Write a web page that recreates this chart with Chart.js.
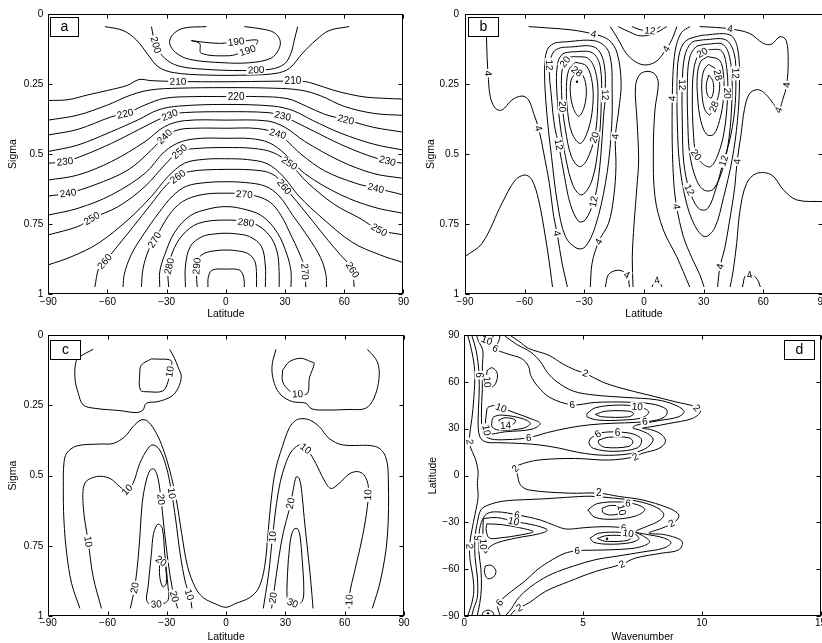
<!DOCTYPE html>
<html>
<head>
<meta charset="utf-8">
<script src="https://cdn.jsdelivr.net/npm/chart.js@4.4.1/dist/chart.umd.min.js"></script>
<style>
  html, body { margin: 0; padding: 0; background: #fff; width: 822px; height: 643px; overflow: hidden; }
  canvas { position: absolute; }
</style>
</head>
<body>
<canvas id="pa" width="411" height="322" style="left:0;top:0"></canvas>
<canvas id="pb" width="430" height="322" style="left:411px;top:0"></canvas>
<canvas id="pc" width="411" height="322" style="left:0;top:321px"></canvas>
<canvas id="pd" width="430" height="322" style="left:411px;top:321px"></canvas>
<script>
// ---- axis ticks ----
const latTicks = [-90, -60, -30, 0, 30, 60, 90];
const sigmaTicks = [0, 0.25, 0.5, 0.75, 1];
const wnTicks = [0, 5, 10, 15];

// ---- panel a: temperature (lat, sigma) ----
const a190 = [[-17.5,.095],[-13.3,.105],[-12.5,.14],[1.9,.149],[7.8,.138],[12.8,.126],[16.2,.095],[10.3,.095],[1.9,.102],[-3.2,.105],[-10.8,.101],[-17.5,.095]];
const a195 = [[-9.9,.045],[-21.7,.051],[-27.1,.075],[-28.5,.105],[-25.4,.138],[-18.4,.162],[-1.5,.174],[12,.174],[22.9,.158],[26.8,.126],[27.5,.095],[24.6,.067],[18.7,.054],[9.4,.045]];
const a200 = [[-37.7,.045],[-36.9,.075],[-35.2,.117],[-31,.158],[-24.3,.185],[-11.6,.197],[8.6,.202],[22.9,.197],[29.7,.178],[33,.14],[34.7,.093],[36.4,.045]];
const a205 = [[-61.3,.045],[-52.1,.059],[-45.3,.093],[-39.4,.146],[-34.4,.188],[-26.8,.209],[-9.9,.218],[12,.218],[25.4,.212],[32.2,.194],[38.9,.14],[45.7,.093],[52.4,.059],[62.5,.045]];
const a210 = [[-90,.309],[-80,.306],[-70,.289],[-60,.273],[-50,.255],[-44,.234],[-38,.238],[-25,.241],[0,.242],[25,.24],[35,.24],[40,.241],[45,.25],[54,.271],[63,.287],[71,.297],[80,.301],[90,.304]];
const a215 = [[-90,.379],[-75,.361],[-60,.325],[-48,.289],[-38,.271],[-24,.265],[0,.263],[24,.265],[38,.272],[48,.292],[60,.33],[75,.355],[90,.362]];
const a220 = [[-90,.432],[-75,.412],[-58,.367],[-50.4,.355],[-41,.325],[-31,.301],[-16,.295],[0,.295],[16,.295],[31,.302],[41,.33],[50,.358],[61,.378],[75,.405],[90,.422]];
const a225 = [[-90,.491],[-75,.468],[-58,.42],[-44.5,.378],[-34.4,.343],[-24,.329],[0,.323],[24,.329],[34,.345],[44,.38],[58,.425],[75,.465],[90,.486]];
const a230 = [[-90,.533],[-81.6,.527],[-71.5,.503],[-58,.462],[-44.5,.414],[-34.4,.378],[-28.5,.361],[-21,.352],[0,.349],[21,.352],[28.8,.364],[35,.385],[45,.42],[58,.465],[72,.505],[82,.525],[90,.533]];
const a235 = [[-90,.593],[-75,.575],[-58,.527],[-41,.456],[-31,.402],[-21,.381],[0,.379],[21,.382],[30,.405],[40,.455],[58,.525],[75,.57],[90,.587]];
const a240 = [[-90,.65],[-80,.64],[-66.4,.61],[-49.6,.557],[-37.8,.486],[-31,.438],[-24.3,.414],[-16,.408],[0,.408],[16,.409],[26.3,.428],[32,.46],[38,.5],[50,.56],[66,.605],[76,.622],[90,.646]];
const a245 = [[-90,.718],[-75,.694],[-58,.646],[-41,.569],[-31,.491],[-22.6,.456],[-12.5,.444],[0,.444],[12.5,.445],[22,.46],[30,.5],[40,.57],[58,.645],[75,.69],[90,.712]];
const a250 = [[-90,.789],[-75,.759],[-68,.73],[-54.6,.688],[-41,.616],[-31,.539],[-23.5,.491],[-14,.48],[0,.477],[14,.48],[24,.495],[32.2,.533],[41,.6],[55,.68],[68,.73],[77.7,.771],[90,.789]];
const a255 = [[-90,.896],[-78,.866],[-64.7,.819],[-49.6,.735],[-37.8,.652],[-29.4,.581],[-21,.533],[-11,.519],[0,.517],[11,.52],[21,.535],[29,.58],[37,.65],[49,.73],[64,.815],[78,.86],[90,.888]];
const a260 = [[-66.4,.975],[-64.5,.91],[-61.4,.884],[-55,.83],[-47,.76],[-38,.68],[-30,.61],[-24.3,.581],[-18,.562],[0,.555],[18,.56],[25,.578],[29.6,.617],[36,.67],[44,.74],[52,.81],[58,.86],[62,.89],[64.2,.914],[65,.975]];
const a265 = [[-52.1,.975],[-51.5,.93],[-48,.86],[-42,.79],[-34,.71],[-27,.65],[-20,.615],[-10,.602],[0,.599],[10,.602],[20,.615],[27,.65],[34,.72],[42,.8],[48,.87],[50.7,.93],[51,.975]];
const a270 = [[-42.8,.975],[-42,.91],[-39,.84],[-36.1,.807],[-29,.72],[-22,.67],[-12,.645],[0,.64],[12,.645],[22,.67],[28,.72],[33,.79],[37,.85],[40,.91],[40.5,.975]];
const a275 = [[-33.5,.975],[-33.5,.92],[-31,.86],[-26,.78],[-18,.72],[-8,.695],[0,.688],[8,.695],[18,.72],[26,.78],[31,.86],[33,.92],[33,.975]];
const a280 = [[-29,.975],[-29.3,.92],[-27,.85],[-22,.79],[-14,.748],[0,.736],[14,.748],[22,.79],[26,.85],[27,.92],[27,.975]];
const a285 = [[-20.5,.975],[-20.5,.9],[-18,.83],[-12,.795],[-5,.785],[0,.783],[5,.785],[12,.795],[18,.83],[20,.9],[20,.975]];
const a290 = [[-14.5,.975],[-15,.92],[-14.5,.88],[-11,.855],[-5,.845],[0,.843],[5,.845],[11,.855],[14.5,.88],[15.5,.92],[15.5,.975]];
const a295 = [[-9.1,.975],[-8.9,.94],[-7,.915],[0,.911],[7,.915],[9,.94],[9.4,.975]];
const aLabels = [
  ['200','a200',-35.2,.11],['190','a190',5.2,.1],['190','a190',11.1,.133],['200','a200',15.3,.2],
  ['210','a210',-24.3,.241],['210','a210',34,.24],['220','a220',5.2,.295],['220','a220',-51,.357],['220','a220',60.8,.378],
  ['230','a230',-28.5,.361],['230','a230',28.8,.364],['230','a230',-81.6,.527],['230','a230',81.9,.525],
  ['240','a240',-31,.438],['240','a240',26.3,.428],['240','a240',-80,.64],['240','a240',76,.622],
  ['250','a250',-23.5,.491],['250','a250',32.2,.533],['250','a250',-68,.73],['250','a250',77.7,.771],
  ['260','a260',-24.3,.581],['260','a260',29.6,.617],['260','a260',-61.4,.884],['260','a260',64.2,.914],
  ['270','a270',9.4,.64],['270','a270',-36.1,.807],['270','a270',40,.92],
  ['280','a280',10.3,.737],['280','a280',-29.2,.9],['290','a290',-15,.9]
];

// ---- panel b: zonal wind (lat, sigma) ----
const bB1 = [[-79.3,.045],[-79.2,.08],[-78.9,.152],[-78.4,.212],[-77.3,.295],[-74.7,.337],[-71.4,.343],[-66.4,.307],[-61.3,.293],[-58,.307],[-55.5,.355],[-53,.408],[-50.4,.497],[-47.6,.605],[-45.4,.723],[-43.7,.783],[-41.2,.89],[-38.5,.975]];
const bB2 = [[-90,.866],[-81.4,.819],[-71.4,.676],[-64.7,.593],[-59.7,.575],[-56.3,.593],[-53,.664],[-49.6,.795],[-47.1,.914],[-46,.975]];
const bJ4L = [[-58,.045],[-47.9,.05],[-36.2,.057],[-25.3,.072],[-17.8,.092],[-13.5,.14],[-11.5,.247],[-12.7,.343],[-14.4,.438],[-14.1,.545],[-15.2,.652],[-17.8,.747],[-22.8,.813],[-26.1,.89],[-27,.975]];
const bJ8L = [[-41.2,.1],[-24,.097],[-17.5,.14],[-16,.283],[-16.6,.438],[-19.4,.605],[-24.5,.759],[-29.5,.831],[-33.7,.837],[-39.5,.795],[-43.5,.676],[-46.5,.509],[-49,.343],[-50,.2],[-48.8,.13],[-45.4,.105],[-41.2,.1]];
const bJ12L = [[-38,.118],[-25,.118],[-20.3,.17],[-19.5,.295],[-20.3,.36],[-21,.438],[-22.8,.581],[-25.3,.67],[-29.5,.735],[-32.8,.741],[-37,.68],[-40,.58],[-42.9,.467],[-45,.4],[-46.5,.3],[-47.6,.182],[-45.4,.135],[-42.1,.121],[-38,.118]];
const bJ16L = [[-36.2,.135],[-26.1,.138],[-22,.188],[-21.5,.32],[-22.8,.462],[-26.1,.593],[-31.2,.646],[-35.5,.616],[-39.5,.509],[-42.5,.378],[-44,.247],[-43.2,.17],[-40.7,.142],[-36.2,.135]];
const bJ20L = [[-35.4,.152],[-27.8,.16],[-23.8,.224],[-23.3,.331],[-24.8,.438],[-28.7,.521],[-32.5,.545],[-36.5,.509],[-39.5,.414],[-41,.331],[-41.5,.224],[-40.2,.175],[-38.2,.157],[-35.4,.152]];
const bJ24L = [[-34.5,.172],[-28.9,.186],[-26,.247],[-25.8,.331],[-28.1,.414],[-32,.462],[-36.2,.426],[-38.5,.343],[-39,.259],[-37.8,.2],[-34.5,.172]];
const bJ28L = [[-33.7,.205],[-30.5,.222],[-29,.271],[-30,.331],[-32.8,.365],[-35.5,.337],[-37,.283],[-36.6,.235],[-33.7,.205]];
const bJ32R = [[32.5,.218],[34.5,.237],[35,.27],[33.8,.3],[32,.29],[31.3,.255],[32.5,.218]];
const bJ28R = [[32.5,.18],[36.5,.2],[38,.24],[37.5,.29],[35.2,.331],[33,.36],[30.5,.34],[29.2,.29],[29.2,.23],[30.5,.195],[32.5,.18]];
const bJ24R = [[32,.152],[38,.165],[40,.22],[40,.3],[38,.38],[35,.43],[31.5,.43],[28.5,.38],[27,.3],[26.8,.22],[28.5,.17],[32,.152]];
const bJ20R = [[32,.127],[39,.132],[41.7,.2],[42,.3],[40.3,.42],[37.3,.5],[33.5,.545],[29.5,.535],[26.2,.503],[24.8,.42],[24.3,.3],[25,.2],[27.5,.145],[32,.127]];
const bJ16R = [[31,.108],[40,.11],[43.7,.18],[44.2,.3],[42.8,.44],[39.7,.55],[35,.625],[30.5,.63],[26.5,.595],[23,.5],[22,.38],[21.8,.25],[22.8,.16],[26,.118],[31,.108]];
const bJ12R = [[30,.092],[41,.092],[45.3,.14],[46.2,.23],[45.5,.35],[42.8,.46],[40,.524],[36.3,.62],[32,.695],[27.5,.695],[22.8,.628],[20,.53],[19.3,.4],[19.2,.253],[20.5,.15],[24,.102],[30,.092]];
const bJ8R = [[29,.076],[43,.074],[47,.12],[48,.24],[47,.38],[44.3,.52],[40,.655],[35.5,.765],[30.5,.795],[25.5,.755],[21,.665],[17.8,.53],[16.8,.4],[16.6,.26],[17.5,.15],[21,.096],[29,.076]];
const bR2 = [[23.1,.045],[19,.065],[16.3,.11],[15,.17],[14.5,.224],[14.2,.301],[14.2,.462],[15,.605],[16.4,.688],[19.8,.795],[24,.87],[28,.93],[30.2,.975]];
const bR4 = [[28,.045],[36,.048],[43.3,.053],[53,.069],[60,.105],[64,.108],[68.4,.081],[71.5,.095],[72.5,.17],[71.7,.254],[70,.3],[67.6,.343],[65,.32],[61,.285],[57,.27],[53,.285],[50.5,.34],[48.8,.43],[46.8,.527],[45.6,.62],[43,.74],[40.5,.84],[38.2,.902],[37,.975]];
const bB2R = [[90,.67],[76.8,.664],[70.1,.628],[64.2,.575],[56.7,.569],[51.6,.605],[48.3,.7],[46.6,.819],[44.9,.914],[43.3,.975]];
const bWaist = [[-5.5,.975],[-5.9,.87],[-5,.75],[-3.6,.62],[-2.7,.521],[-3.5,.38],[-4.3,.26],[-2,.215],[2,.205],[5.5,.215],[7.2,.247],[5.5,.343],[4.7,.486],[5.5,.652],[9.7,.771],[16.4,.866],[23,.975]];
const bU = [[-17,.045],[-13,.09],[-9,.14],[-4,.172],[1,.182],[6,.17],[10,.138],[13,.105],[15,.075],[16.5,.045]];
const bArc2 = [[-13,.045],[-7,.065],[-2,.078],[4.7,.071],[11.5,.045]];
const bArc1 = [[-6,.045],[-2,.056],[3,.06],[6.5,.052],[8.3,.045]];
const bArcL = [[-19.4,.975],[-17.8,.93],[-12.7,.915],[-8.5,.932],[-7.3,.975]];
const bArcM = [[4,.975],[5.9,.952],[7.5,.95],[9,.975]];
const bArcR = [[49.5,.975],[51,.935],[54,.93],[57,.948],[58.5,.975]];
const bDots = [[-33.7,.242]];
const bLabels = [
  ['4','bJ4L',-25.3,.072],['12','bJ12L',-47.6,.182],['20','bJ20L',-40.7,.165],['28','bJ28L',-33.7,.205],
  ['12','bJ12L',-19.5,.289],['20','bJ20L',-41.2,.331],['20','bJ20L',-25.5,.44],['4','bJ4L',-14.4,.438],
  ['12','bJ12L',-42.9,.467],['12','bJ12L',-25.3,.67],['4','bJ4L',-22.8,.813],['4','bB1',-43.7,.783],
  ['4','bB1',-53,.408],['4','bB1',-78.9,.212],['4','bArcL',-8.5,.93],['12','bArc1',3,.06],['4','bU',11.4,.125],
  ['20','bJ20R',29,.135],['28','bJ28R',37.4,.218],['12','bJ12R',45.8,.212],['12','bJ12R',19.2,.253],
  ['4','bR2',14.2,.301],['20','bJ20R',41.8,.283],['28','bJ28R',35.2,.331],['20','bJ20R',26.2,.503],
  ['12','bJ12R',40,.524],['4','bR4',46.8,.527],['12','bJ12R',22.8,.628],['4','bR2',16.4,.688],
  ['4','bR4',38.2,.902],['4','bR4',71.7,.254],['4','bR4',67.6,.343],['4','bR4',43.3,.053],
  ['4','bArcM',6.5,.95],['4','bArcR',53,.93]
];

// ---- panel c (lat, sigma) ----
const cTopL = [[-67.3,.051],[-74,.077],[-76,.095],[-76.5,.154],[-74.8,.208],[-72.3,.249],[-66.4,.261],[-53.8,.269],[-45.4,.276],[-42.1,.267],[-40.4,.243],[-34.5,.237],[-27.8,.219],[-24.4,.19],[-22.7,.148],[-24.4,.113],[-26.1,.083],[-28.6,.051]];
const cTopLi = [[-37.8,.085],[-42.9,.107],[-43.7,.136],[-43.4,.196],[-39.5,.202],[-32,.199],[-29.4,.166],[-28.3,.125],[-27.5,.095],[-29.4,.087],[-33.6,.086],[-37.8,.085]];
const cTopR = [[25.2,.051],[23.2,.113],[24.4,.172],[27.8,.214],[33.6,.237],[40.4,.243],[42.9,.261],[47.1,.267],[62.2,.265],[70.6,.261],[74.8,.225],[77.4,.154],[76.5,.095],[71.5,.051]];
const cTopRi = [[28.6,.125],[32,.095],[37.8,.083],[42.9,.095],[44.6,.101],[42.1,.154],[41.2,.208],[36.2,.21],[32,.198],[28.6,.166],[28.6,.125]];
const cOuter = [[-74,.973],[-78.2,.884],[-80.7,.777],[-82.1,.658],[-82.4,.54],[-82.1,.457],[-80.7,.421],[-75.7,.395],[-63.9,.388],[-57.2,.386],[-51.3,.362],[-47.1,.326],[-42.9,.302],[-39.5,.308],[-35.3,.35],[-32,.403],[-28.6,.48],[-25.2,.587],[-22.5,.706],[-19.5,.824],[-15.5,.9],[-11.5,.935],[-5,.958],[0,.969],[5,.955],[11.8,.935],[16.5,.9],[19.5,.824],[21.2,.706],[22.8,.587],[25,.48],[28.5,.397],[32,.33],[35,.305],[37.8,.298],[42.1,.302],[47.1,.326],[52.1,.368],[58.9,.391],[75.7,.397],[80.7,.433],[82.1,.516],[81.6,.718],[78.2,.872],[74,.973]];
const c3L = [[-63.1,.973],[-67.3,.86],[-69.8,.735],[-72.3,.611],[-71.5,.528],[-65.6,.504],[-58.9,.51],[-53.8,.54],[-50.5,.554],[-47.1,.528],[-43.7,.457],[-39.5,.403],[-37,.391],[-33.6,.409],[-30.3,.469],[-27.8,.552],[-25.5,.658],[-23.3,.777],[-20.5,.884],[-18.3,.93],[-17.3,.973]];
const c4L = [[-48.5,.973],[-46.3,.9],[-44.6,.8],[-43.5,.7],[-42.5,.6],[-40.5,.52],[-38.3,.48],[-36.3,.478],[-34.5,.51],[-33,.58],[-31.5,.68],[-29.5,.8],[-27.3,.9],[-25.5,.95],[-24.5,.973]];
const c5L = [[-39.5,.896],[-37.8,.777],[-36.7,.706],[-34.5,.673],[-32.3,.688],[-31.1,.777],[-29.4,.896],[-29.2,.94],[-31.5,.956],[-35.3,.958],[-39.2,.955],[-40.3,.94],[-39.5,.896]];
const c6L = [[-33.6,.801],[-31.1,.813],[-30.3,.884],[-32,.896],[-33.6,.86],[-33.6,.801]];
const c3R = [[18.8,.973],[20,.92],[21.5,.85],[23.5,.718],[25.5,.6],[27.5,.52],[30,.46],[32.5,.42],[35,.4],[37.8,.391],[41.2,.409],[45.4,.457],[49.6,.516],[53,.546],[57.2,.528],[62.2,.495],[66.4,.486],[69.8,.498],[72,.54],[71.5,.611],[69,.718],[64.8,.848],[62.5,.92],[62.2,.973]];
const c4R = [[23,.973],[24.5,.9],[26.5,.8],[29,.7],[32,.62],[34,.55],[35.5,.505],[37,.51],[38.3,.56],[39.5,.65],[41,.75],[42.5,.85],[43.5,.93],[44,.973]];
const c5R = [[31.5,.8],[32.8,.72],[34.5,.69],[36.2,.69],[37.5,.72],[38.5,.8],[39.3,.9],[38.5,.948],[35,.958],[31.5,.948],[30.8,.9],[31.5,.8]];
const cLabels = [
  ['10','cTopLi',-28.6,.13],['10','cTopRi',36.2,.21],
  ['10','c3L',-50.5,.548],['10','c3L',-27.2,.563],['10','c3L',-69.8,.735],['10','c3L',-18.8,.925],
  ['20','c4L',-33,.585],['20','c4L',-46.3,.9],['20','c4L',-25.8,.93],['30','c5L',-35.3,.958],['20','c6L',-32.5,.8],
  ['10','c3R',40.4,.403],['10','c3R',23.5,.718],['10','c3R',72.2,.569],['10','c3R',62.3,.943],
  ['20','c4R',33.2,.6],['20','c4R',24,.935],['30','c5R',33.5,.956]
];

// ---- panel d: spectrum (wavenumber, lat) ----
const dFar = [[0.15,89.5],[0.32,79.2],[0.44,66.4],[0.4,49.4],[0.32,36.5],[0.21,23.7],[0.25,18.4],[0.46,10.9],[0.58,2.4],[0.55,-5],[0.58,-14],[0.45,-25],[0.32,-35],[0.22,-45],[0.25,-55],[0.35,-63.6],[0.4,-74],[0.3,-82.8],[0.15,-89.5]];
const dOut = [[1.95,89.5],[2.3,86],[2.71,81.4],[3.55,77.1],[4.11,71.8],[4.68,67.5],[5.1,65.4],[5.8,60],[6.64,55.8],[7.77,51.5],[8.89,47.2],[9.73,44],[9.94,40.8],[9.59,36.5],[8.61,33.3],[7.9,31.3],[7.5,30.3],[7.9,29.2],[8.33,25.9],[8.47,21.6],[8.19,17.3],[7.48,14.1],[7.2,12],[6.08,9.9],[4.68,10.9],[3.13,9.9],[2.29,6.7],[2.15,4.5],[2.22,1.3],[2.36,-5.9],[2.71,-9.2],[4.4,-11.3],[5.66,-11.3],[6.5,-13.4],[7.48,-15.6],[8.61,-20.9],[9.03,-25.2],[8.89,-29.4],[8.33,-33.7],[7.77,-36.9],[8.47,-38],[9.17,-42.2],[9.03,-47.6],[8.33,-49.7],[7.2,-52.9],[6.64,-56.8],[5.52,-61.5],[4.4,-67.9],[3.41,-74.3],[2.71,-81.7],[2.15,-86],[1.95,-89.5]];
const dN4 = [[0.32,89.5],[0.5,80],[0.62,65],[0.62,50],[0.58,35],[0.65,25],[0.9,21.5],[1.5,21],[2.4,20.5],[3.2,19.5],[4,17.5],[4.8,14.8],[5.8,13],[6.9,13.8],[7.6,17],[7.95,22.5],[7.8,26],[7.4,29],[7.1,30.5],[7.2,32],[7.6,33.5],[8.2,35.2],[9,37.5],[9.25,41],[8.9,45],[8.1,48.5],[6.8,50],[5.5,51.5],[4.6,54],[3.9,60],[3.5,66],[3.2,73],[2.8,79],[2.2,84],[1.7,89.5]];
const dN6 = [[0.52,89.5],[0.6,86],[0.78,80],[0.76,70],[0.76,55],[0.72,40],[0.8,27],[1.1,23.5],[1.8,23],[2.71,24.2],[3.5,27.5],[4.4,30.5],[5.3,32.5],[6.3,33.5],[7.2,34],[8.1,35.5],[8.5,38.5],[8.5,42.5],[7.9,45.8],[6.8,47],[5.5,46.8],[4.54,45.3],[3.6,50],[3.1,57],[2.8,64],[2.7,70],[2.4,75],[1.8,78],[1.31,81.4],[1.45,86],[1.5,89.5]];
const dNcap = [[0.7,89.5],[0.78,87.5],[0.95,86.6],[1.15,87.5],[1.22,89.5]];
const dP60 = [[0.97,67.5],[1.18,69],[1.39,65.4],[1.32,59],[1.11,56.2],[0.97,58.9],[0.94,64.3],[0.97,67.5]];
const dM10 = [[0.96,43],[1.03,44],[1.31,44.7],[2.01,40.8],[2.85,36.1],[3.2,33.3],[2.85,29.7],[1.73,28],[0.96,26.9],[0.89,32.3],[0.92,38.7],[0.96,43]];
const dM12 = [[1.17,35.5],[1.24,37.6],[1.59,38.7],[2.43,36.5],[2.78,33.3],[2.43,30.1],[1.45,29.1],[1.17,31.2],[1.17,35.5]];
const dM14 = [[1.45,35.5],[1.73,37],[2.15,35.5],[2.01,32.3],[1.59,31.9],[1.45,35.5]];
const dS40a = [[5.17,39.7],[5.52,43.4],[6.5,45.1],[7.34,44],[7.77,40.8],[7.48,37],[6.64,35.5],[5.66,35.5],[5.17,37.6],[5.17,39.7]];
const dS40b = [[5.52,39.1],[5.94,41.2],[6.92,41.2],[7.13,39.7],[6.92,37.6],[5.8,37.6],[5.52,39.1]];
const dTmid = [[5.3,23.5],[5.7,27.3],[6.9,27.3],[7.45,23.5],[7.3,17.8],[6.3,15.5],[5.45,17.3],[5.25,20.5],[5.3,23.5]];
const dTin = [[5.66,22.7],[6.08,24.5],[6.92,24.2],[7.1,21.6],[6.92,18.6],[5.94,18],[5.66,20.5],[5.66,22.7]];
const dS4 = [[0.32,-89.5],[0.4,-85],[0.55,-78],[0.55,-65],[0.45,-52],[0.45,-40],[0.55,-30],[0.7,-22],[1,-19],[1.6,-16.5],[2.5,-15.5],[3.3,-15],[4.3,-14],[5.3,-13.3],[6.3,-14.5],[7.3,-16.5],[8.1,-20.5],[8.4,-25],[8.2,-29],[7.7,-32.5],[7.3,-35],[7.2,-36.2],[7.6,-37.5],[8.4,-40],[8.7,-43],[8.4,-46.5],[7.5,-49],[6.5,-51.5],[5.5,-54],[4.6,-58],[3.7,-63],[3,-69],[2.5,-75],[2.2,-80],[2,-85],[1.75,-89.5]];
const dSM6 = [[0.55,-89.5],[0.65,-82],[0.72,-72],[0.7,-60],[0.62,-50],[0.62,-38],[0.72,-30],[0.95,-24.5],[1.4,-23.3],[2.22,-25.2],[3.2,-28.5],[3.8,-32],[4.3,-34.3],[5,-33.5],[5.8,-32.8],[6.71,-33.5],[7,-35.3],[7.5,-38.5],[7.8,-42.5],[7.4,-45.8],[6.6,-47.3],[5.6,-47.8],[4.75,-48.2],[4.2,-50],[3.7,-54],[3.1,-60],[2.6,-67],[2,-74],[1.6,-79],[1.4,-83],[1.5,-89.5]];
const dS1a = [[5.2,-22],[5.6,-18],[6.6,-17],[7.3,-18.8],[7.6,-22],[7.2,-26],[6.3,-28],[5.5,-26.8],[5.2,-22]];
const dS1b = [[5.8,-21],[6.15,-19.2],[6.6,-20.2],[6.65,-23.5],[6.2,-25.3],[5.85,-24],[5.8,-21]];
const dS2a = [[5.3,-40.1],[5.65,-37],[6.6,-36.4],[7.2,-37.8],[7.35,-40.5],[7,-43],[6.1,-44],[5.45,-42.8],[5.3,-40.1]];
const dS2b = [[5.6,-40.3],[6,-38.5],[6.8,-38.8],[7,-40.5],[6.7,-42],[5.9,-42],[5.6,-40.3]];
const dSM10 = [[0.8,-27.5],[1.4,-27],[2.08,-29.4],[3,-32],[3.5,-35],[3.1,-37.5],[2.2,-40],[1.4,-43],[1.05,-46],[0.9,-49.7],[0.8,-47],[0.78,-38],[0.8,-27.5]];
const dSM12 = [[0.95,-31],[1.6,-31.5],[2.5,-34],[2.9,-36],[2.4,-38],[1.5,-40],[1.05,-40],[0.92,-35],[0.95,-31]];
const dSP60 = [[0.88,-58],[1.13,-57.5],[1.33,-61],[1.23,-65],[0.98,-66],[0.85,-62],[0.88,-58]];
const dScap = [[0.75,-89.5],[0.8,-87.5],[1,-86.3],[1.2,-87.5],[1.25,-89.5]];
const dDots = [[6.01,-40.5],[1,-88.3]];
const dLabels = [
  ['2','dOut',5.1,65.4],['2','dOut',9.8,43.5],['2','dOut',7.2,12],['2','dOut',2.15,4.5],['2','dOut',5.66,-11.3],
  ['2','dOut',8.75,-31.6],['2','dOut',6.64,-56.8],['2','dOut',2.3,-84.5],['2','dFar',0.25,21.6],['2','dFar',0.22,-45.4],
  ['6','dN6',1.31,81.4],['6','dN6',4.54,45.3],['6','dN6',2.71,24.2],['6','dN6',7.6,34.5],['6','dTmid',5.6,27],['6','dTmid',6.45,27.3],
  ['10','dS40a',7.27,42],['10','dM10',1.55,43.2],['10','dM10',0.93,29],['14','dM14',1.73,34.4],['10','dP60',1,60],
  ['6','dN4',0.62,64.3],['10','dNcap',0.95,86.6],
  ['6','dS1a',6.9,-17.5],['10','dS1b',6.63,-22],['6','dSM6',2.22,-25.2],['10','dSM10',2.08,-29.4],['6','dSM6',6.71,-33.5],
  ['10','dS2a',6.9,-36.8],['6','dSM6',0.62,-40],['10','dSM10',0.82,-44],['6','dSM6',4.75,-48.2],['6','dSM6',1.45,-81]
];

// ---- drawing ----
const FONT = "'Liberation Sans', Arial, Helvetica, sans-serif";

const contourLabels = {
  id: 'contourLabels',
  afterDatasetsDraw(chart, args, opts) {
    const { ctx, scales: { x, y } } = chart;
    ctx.save();
    ctx.font = '10px ' + FONT;
    ctx.textAlign = 'center';
    ctx.textBaseline = 'middle';
    for (const [text, id, lx, ly] of opts.items) {
      const ds = chart.data.datasets.find((d) => d.label === id);
      if (!ds) continue;
      const px = x.getPixelForValue(lx), py = y.getPixelForValue(ly);
      const pts = ds.data.map((p) => [x.getPixelForValue(p.x), y.getPixelForValue(p.y)]);
      let best = null;
      for (let i = 0; i < pts.length - 1; i++) {
        const [x0, y0] = pts[i], [x1, y1] = pts[i + 1];
        const dx = x1 - x0, dy = y1 - y0, len2 = dx * dx + dy * dy || 1;
        const t = Math.max(0, Math.min(1, ((px - x0) * dx + (py - y0) * dy) / len2));
        const qx = x0 + t * dx, qy = y0 + t * dy;
        const d = (qx - px) ** 2 + (qy - py) ** 2;
        if (!best || d < best.d) best = { d, qx, qy, ang: Math.atan2(dy, dx) };
      }
      let ang = best.ang;
      if (ang > Math.PI / 2) ang -= Math.PI;
      if (ang < -Math.PI / 2) ang += Math.PI;
      const w = ctx.measureText(text).width;
      ctx.save();
      ctx.translate(best.qx, best.qy);
      ctx.rotate(ang);
      ctx.fillStyle = '#fff';
      ctx.fillRect(-w / 2 - 1.5, -4.5, w + 3, 9);
      ctx.fillStyle = '#000';
      ctx.fillText(text, 0, 0.5);
      ctx.restore();
    }
    ctx.restore();
  }
};

const framePlugin = {
  id: 'frame',
  afterDraw(chart, args, o) {
    const { ctx, chartArea: a, scales: { x, y } } = chart;
    ctx.save();
    ctx.strokeStyle = '#000';
    ctx.lineWidth = 1;
    const L = Math.round(a.left) + 0.5, R = Math.round(a.right) - 0.5;
    const T = Math.round(a.top) + 0.5, B = Math.round(a.bottom) - 0.5;
    ctx.strokeRect(L, T, R - L, B - T);
    ctx.beginPath();
    for (const t of x.ticks) {
      const p = Math.round(x.getPixelForValue(t.value)) + 0.5;
      ctx.moveTo(p, B); ctx.lineTo(p, B - 4);
      ctx.moveTo(p, T); ctx.lineTo(p, T + 4);
    }
    for (const t of y.ticks) {
      const p = Math.round(y.getPixelForValue(t.value)) + 0.5;
      ctx.moveTo(L, p); ctx.lineTo(L + 4, p);
      ctx.moveTo(R, p); ctx.lineTo(R - 4, p);
    }
    ctx.stroke();
    // panel letter
    const b = o.box;
    const bx = Math.round(b.right ? a.right - b.dx - b.w : a.left + b.dx) + 0.5;
    const by = Math.round(a.top + b.dy) + 0.5;
    ctx.fillStyle = '#fff';
    ctx.fillRect(bx, by, b.w, b.h);
    ctx.strokeRect(bx, by, b.w, b.h);
    ctx.fillStyle = '#000';
    ctx.font = '14px ' + FONT;
    ctx.textAlign = 'center';
    ctx.textBaseline = 'middle';
    ctx.fillText(o.letter, bx + b.w / 2, by + b.h / 2);
    ctx.restore();
  }
};

function axis(a, horizontal) {
  return {
    type: 'linear', min: a.min, max: a.max, reverse: !!a.reverse,
    afterBuildTicks: (s) => { s.ticks = a.ticks.map((v) => ({ value: v })); },
    afterFit: (s) => { if (horizontal) s.height = a.size; else s.width = a.size; },
    grid: { display: false, drawTicks: false },
    border: { display: false },
    ticks: {
      color: '#000', padding: a.pad, autoSkip: false, maxRotation: 0,
      font: { family: FONT, size: 10 },
      callback: (v) => String(v).replace('-', '\u2212')
    },
    title: { display: true, text: a.title, color: '#000', font: { family: FONT, size: 10.5 }, padding: a.titlePad }
  };
}

function makePanel(canvasId, cfg) {
  const datasets = Object.entries(cfg.lines).map(([name, pts]) => ({
    label: name,
    data: pts.map(([px, py]) => ({ x: px, y: py })),
    showLine: true, borderColor: '#000', borderWidth: 1, pointRadius: 0, tension: 0.35, fill: false
  }));
  if (cfg.dots) {
    datasets.push({
      label: 'dots', data: cfg.dots.map(([px, py]) => ({ x: px, y: py })),
      showLine: false, pointRadius: 1.2, backgroundColor: '#000', borderWidth: 0
    });
  }
  new Chart(document.getElementById(canvasId), {
    type: 'scatter',
    data: { datasets },
    options: {
      responsive: false, animation: false, events: [],
      layout: { autoPadding: false, padding: cfg.pad },
      plugins: {
        legend: { display: false }, tooltip: { enabled: false },
        contourLabels: { items: cfg.labels },
        frame: { letter: cfg.letter, box: cfg.box }
      },
      scales: { x: axis(cfg.x, true), y: axis(cfg.y, false) }
    },
    plugins: [contourLabels, framePlugin]
  });
}

makePanel('pa', {
  lines: { a190, a195, a200, a205, a210, a215, a220, a225, a230, a235, a240, a245, a250, a255, a260, a265, a270, a275, a280, a285, a290, a295 },
  labels: aLabels, letter: 'a', box: { dx: 1.7, dy: 2.7, w: 28, h: 19 },
  pad: { left: 0, top: 14, right: 7, bottom: 0 },
  x: { min: -90, max: 90, ticks: latTicks, title: 'Latitude', size: 28, pad: 2, titlePad: { top: 0, bottom: 1.5 } },
  y: { min: 0, max: 1, reverse: true, ticks: sigmaTicks, title: 'Sigma', size: 48.3, pad: 5, titlePad: { top: 7, bottom: 0 } }
});

makePanel('pb', {
  lines: { bB1, bB2, bJ4L, bJ8L, bJ12L, bJ16L, bJ20L, bJ24L, bJ28L, bJ32R, bJ28R, bJ24R, bJ20R, bJ16R, bJ12R, bJ8R, bR2, bR4, bB2R, bWaist, bU, bArc2, bArc1, bArcL, bArcM, bArcR },
  dots: bDots, labels: bLabels, letter: 'b', box: { dx: 2.7, dy: 2.7, w: 30, h: 19 },
  pad: { left: 0, top: 14, right: 18, bottom: 0 },
  x: { min: -90, max: 90, ticks: latTicks, title: 'Latitude', size: 28, pad: 2, titlePad: { top: 0, bottom: 1.5 } },
  y: { min: 0, max: 1, reverse: true, ticks: sigmaTicks, title: 'Sigma', size: 54, pad: 6, titlePad: { top: 13.5, bottom: 0 } }
});

makePanel('pc', {
  lines: { cTopL, cTopLi, cTopR, cTopRi, cOuter, c3L, c4L, c5L, c6L, c3R, c4R, c5R },
  labels: cLabels, letter: 'c', box: { dx: 1.7, dy: 5, w: 30, h: 19 },
  pad: { left: 0, top: 14, right: 6, bottom: 0 },
  x: { min: -90, max: 90, ticks: latTicks, title: 'Latitude', size: 27, pad: 1.5, titlePad: { top: 0, bottom: 0 } },
  y: { min: 0, max: 1, reverse: true, ticks: sigmaTicks, title: 'Sigma', size: 48.3, pad: 5, titlePad: { top: 7, bottom: 0 } }
});

makePanel('pd', {
  lines: { dFar, dOut, dN4, dN6, dNcap, dP60, dM10, dM12, dM14, dS40a, dS40b, dTmid, dTin, dS4, dSM6, dS1a, dS1b, dS2a, dS2b, dSM10, dSM12, dSP60, dScap },
  dots: dDots, labels: dLabels, letter: 'd', box: { right: true, dx: 6.9, dy: 5, w: 30, h: 19 },
  pad: { left: 0, top: 14, right: 20.4, bottom: 0 },
  x: { min: 0, max: 15, ticks: wnTicks, title: 'Wavenumber', size: 27, pad: 1.5, titlePad: { top: 0, bottom: 0 } },
  y: { min: -90, max: 90, ticks: latTicks, title: 'Latitude', size: 53.3, pad: 5, titlePad: { top: 15.4, bottom: 0 } }
});
</script>
</body>
</html>
